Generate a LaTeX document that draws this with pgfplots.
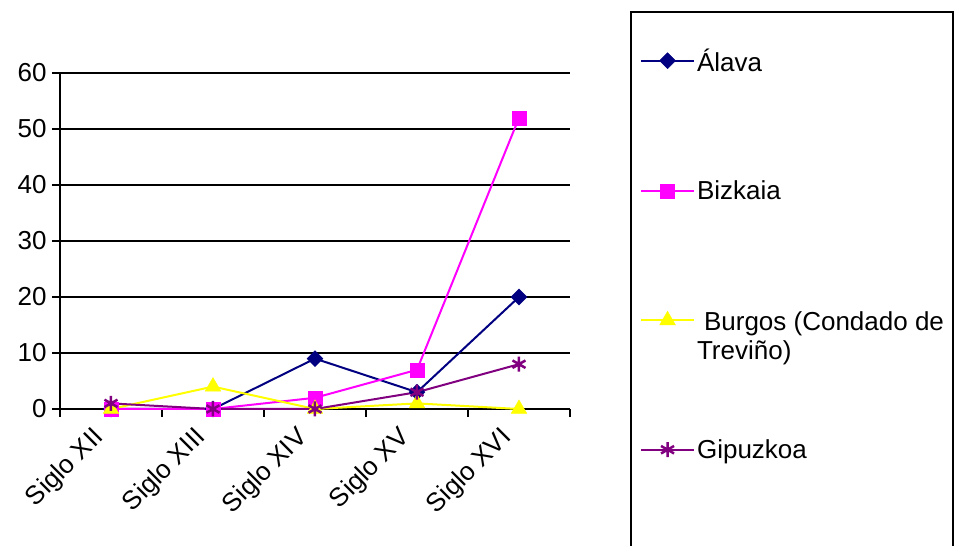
\documentclass[border=0pt]{standalone}
\usepackage{pgfplots}
\pgfplotsset{compat=1.18}
\usepackage{fontspec}
\setmainfont{Liberation Sans}
\definecolor{alava}{RGB}{0,0,128}
\definecolor{bizkaia}{RGB}{255,0,255}
\definecolor{burgos}{RGB}{255,255,0}
\definecolor{gipuzkoa}{RGB}{128,0,128}
\begin{document}
\begin{tikzpicture}
\useasboundingbox (0,0) rectangle (954pt,546pt);
\begin{axis}[
  at={(60pt,137pt)}, anchor=south west,
  scale only axis, width=510pt, height=336pt,
  xmin=-0.5, xmax=4.5, ymin=0, ymax=60,
  axis lines*=left,
  axis line style={line width=2pt, black},
  xtick={-0.5,0.5,1.5,2.5,3.5,4.5},
  xticklabels={},
  extra x ticks={0,1,2,3,4},
  extra x tick labels={Siglo XII,Siglo XIII,Siglo XIV,Siglo XV,Siglo XVI},
  extra x tick style={major tick length=0pt, xticklabel style={xshift=-20pt, yshift=-16pt, rotate=45, anchor=north east, inner sep=0pt}},
  ytick={0,10,...,60},
  ymajorgrids,
  grid style={line width=2pt, black},
  major tick length=8pt,
  tick align=outside,
  tick style={line width=2pt, black},
  /pgf/number format/assume math mode=true,
  tick label style={font=\fontsize{26}{30}\selectfont},
  yticklabel style={xshift=-2pt},
  clip=false,
  legend style={at={(1.137,1.079)}, anchor=north west, draw=none, fill=none,
    font=\fontsize{26}{30}\selectfont, row sep=104pt, inner sep=0pt,
    cells={anchor=west, inner sep=0pt, xshift=7pt}},
  legend image code/.code={\draw[line width=2pt] (0pt,0pt) -- (53pt,0pt);
    \draw plot coordinates {(26.5pt,0pt)};},
  every axis plot/.append style={line width=2pt},
]
\addplot[color=alava, mark=square*, mark size=5.6pt, mark options={fill=alava, line width=0.5pt, rotate=45}] coordinates {(0,0) (1,0) (2,9) (3,3) (4,20)};
\addlegendentry{Álava}
\addplot[color=bizkaia, mark=square*, mark size=7pt, mark options={fill=bizkaia, line width=0.5pt}] coordinates {(0,0) (1,0) (2,2) (3,7) (4,52)};
\addlegendentry{Bizkaia}
\addplot[color=burgos, mark=triangle*, mark size=9pt, mark options={fill=burgos, line width=0.5pt}] coordinates {(0,0) (1,4) (2,0) (3,1) (4,0)};
\addlegendentry{\raisebox{0pt}[\height][0pt]{\begin{tabular}[t]{@{}l@{}}\hspace{7pt}Burgos (Condado de\\[-1pt]Treviño)\end{tabular}}}
\addplot[color=gipuzkoa, mark=asterisk, mark size=7.5pt, mark options={line width=2.5pt}] coordinates {(0,1) (1,0) (2,0) (3,3) (4,8)};
\addlegendentry{Gipuzkoa}
\end{axis}
\draw[line width=2pt, black] (631pt,534pt) rectangle (953pt,-20pt);
\end{tikzpicture}
\end{document}
